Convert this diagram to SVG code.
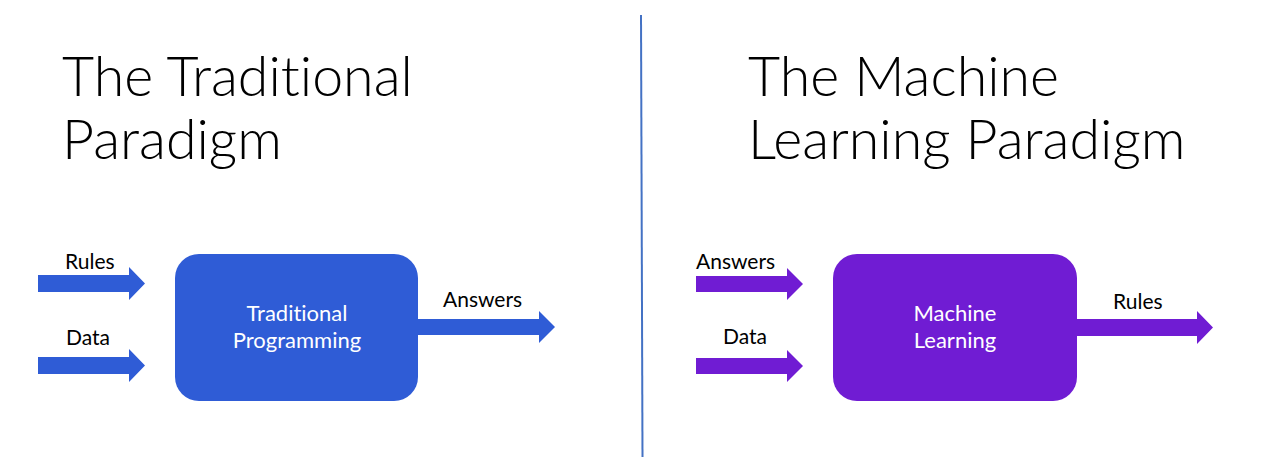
<svg xmlns="http://www.w3.org/2000/svg" width="1280" height="468" viewBox="0 0 1280 468">
  <style>
    text { font-variant-ligatures: none; }
    .title { font-family: Lato, "Open Sans", sans-serif; font-size: 55.5px; font-weight: 300; fill: #000; }
    .lbl { font-family: Lato, "Open Sans", sans-serif; font-size: 21px; fill: #000; }
    .boxtxt { font-family: Lato, "Open Sans", sans-serif; font-size: 22px; fill: #fff; text-anchor: middle; }
    .blue { fill: #2F5CD6; }
    .purple { fill: #701CD3; }
  </style>
  <rect width="1280" height="468" fill="#ffffff"/>

  <g id="divider">
    <line x1="641" y1="15" x2="642.5" y2="457" stroke="#4472C4" stroke-width="2"/>
  </g>

  <g id="title-left">
    <text class="title" x="62" y="96">The Traditional</text>
    <text class="title" x="62" y="159">Paradigm</text>
  </g>
  <g id="title-right">
    <text class="title" x="748" y="96">The Machine</text>
    <text class="title" x="748" y="159">Learning Paradigm</text>
  </g>

  <g id="node-traditional-programming">
    <rect class="blue" x="175" y="254" width="243" height="147" rx="24" ry="24"/>
    <text class="boxtxt" x="297" y="321">Traditional</text>
    <text class="boxtxt" x="297" y="348">Programming</text>
  </g>

  <g id="node-machine-learning">
    <rect class="purple" x="833" y="254" width="244" height="147" rx="24" ry="24"/>
    <text class="boxtxt" x="955" y="321">Machine</text>
    <text class="boxtxt" x="955" y="348">Learning</text>
  </g>

  <g id="connectors">
    <g id="left-rules-in">
      <polygon class="blue" points="38,275 129,275 129,267 145,283.5 129,300 129,292 38,292"/>
      <text class="lbl" x="65" y="269">Rules</text>
    </g>
    <g id="left-data-in">
      <polygon class="blue" points="38,357 129,357 129,349 145,365.5 129,382 129,374 38,374"/>
      <text class="lbl" x="66" y="345">Data</text>
    </g>
    <g id="left-answers-out">
      <polygon class="blue" points="418,319 539,319 539,311 555,327 539,343 539,335 418,335"/>
      <text class="lbl" x="443" y="307">Answers</text>
    </g>
    <g id="right-answers-in">
      <polygon class="purple" points="696,276 787,276 787,268 803,284 787,300 787,292 696,292"/>
      <text class="lbl" x="696" y="269">Answers</text>
    </g>
    <g id="right-data-in">
      <polygon class="purple" points="696,358 787,358 787,350 803,366 787,382 787,374 696,374"/>
      <text class="lbl" x="723" y="344">Data</text>
    </g>
    <g id="right-rules-out">
      <polygon class="purple" points="1077,319 1197,319 1197,311 1213,327.5 1197,344 1197,336 1077,336"/>
      <text class="lbl" x="1113" y="309">Rules</text>
    </g>
  </g>
</svg>
